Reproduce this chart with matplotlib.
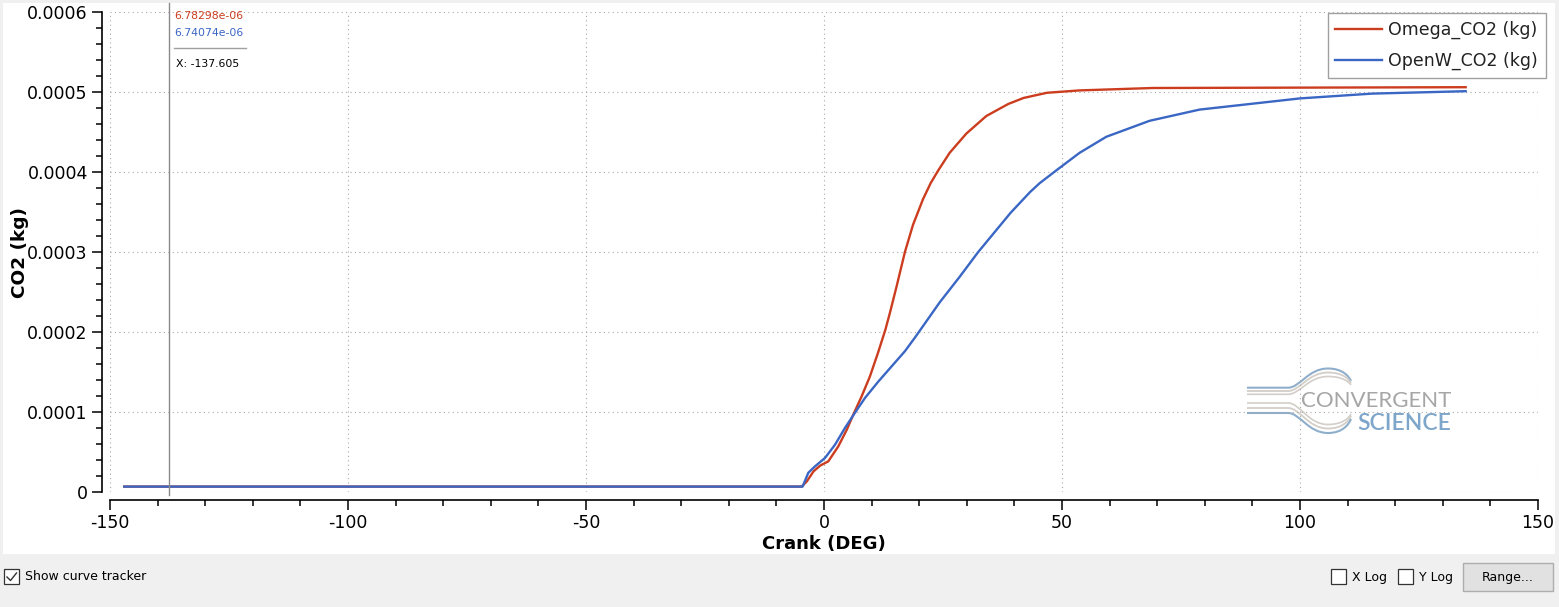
import matplotlib
matplotlib.use("Agg")
import matplotlib.pyplot as plt
from matplotlib.patches import Rectangle, PathPatch
from matplotlib.path import Path
from matplotlib.lines import Line2D
from matplotlib.ticker import MultipleLocator

# ---------------- data ----------------
omega_x = [-147, -4.7, -3.6, -2.2, -0.8, 0.9, 3.0, 4.8, 6.1, 7.9, 9.65, 11.4, 12.9,
           13.85, 15.25, 17.0, 18.7, 20.8, 22.4, 24.0, 26.4, 29.9, 34.1, 38.7, 41.9,
           46.8, 53.7, 69.0, 134.8]
omega_y = [6.78e-6, 6.78e-6, 1.33e-5, 2.58e-5, 3.3e-5, 3.83e-5, 5.7e-5, 7.8e-5, 9.6e-5,
           1.195e-4, 1.445e-4, 1.75e-4, 2.03e-4, 2.24e-4, 2.57e-4, 3.0e-4, 3.34e-4,
           3.66e-4, 3.86e-4, 4.02e-4, 4.24e-4, 4.48e-4, 4.70e-4, 4.85e-4, 4.925e-4,
           4.99e-4, 5.02e-4, 5.05e-4, 5.06e-4]

openw_x = [-147, -4.5, -3.3, -1.9, 0.2, 2.3, 4.4, 6.5, 8.6, 11.4, 14.2, 17.0, 19.1,
           24.3, 28.5, 32.4, 39.2, 43.3, 45.3, 48.8, 53.7, 59.3, 68.4, 78.9,
           100.0, 115.2, 134.8]
openw_y = [6.74e-6, 6.74e-6, 2.4e-5, 3.2e-5, 4.25e-5, 5.9e-5, 8.0e-5, 9.9e-5, 1.175e-4,
           1.38e-4, 1.57e-4, 1.76e-4, 1.93e-4, 2.37e-4, 2.69e-4, 3.0e-4, 3.49e-4,
           3.75e-4, 3.86e-4, 4.02e-4, 4.24e-4, 4.44e-4, 4.64e-4, 4.78e-4,
           4.92e-4, 4.98e-4, 5.01e-4]

series_names = ["Omega_CO2 (kg)", "OpenW_CO2 (kg)"]
series_colors = ["#cc3d1f", "#3a66c4"]
tracker_x = -137.605
tracker_vals = ["6.78298e-06", "6.74074e-06"]

W, H = 1559, 607
fig = plt.figure(figsize=(W / 100, H / 100), dpi=100)
fig.patch.set_facecolor("#f0f0f0")


def fx(x):
    return x / W


def fy(y):
    return 1 - y / H


# white plot widget background
fig.patches.append(Rectangle((fx(3), fy(554)), fx(1555) - fx(3), fy(3) - fy(554),
                             transform=fig.transFigure, facecolor="white",
                             edgecolor="none", zorder=-5))

left, right, top, bottom = 110, 1538, 12, 492
ax = fig.add_axes([fx(left), fy(bottom), fx(right) - fx(left), fy(top) - fy(bottom)])
ax.set_facecolor("none")
ax.set_zorder(2)

ax.plot(omega_x, omega_y, color=series_colors[0], lw=1.7, label=series_names[0], zorder=3,
        solid_joinstyle="round")
ax.plot(openw_x, openw_y, color=series_colors[1], lw=1.7, label=series_names[1], zorder=4,
        solid_joinstyle="round")

ax.set_xlim(-150, 150)
ax.set_ylim(0, 0.0006)
ax.xaxis.set_major_locator(MultipleLocator(50))
ax.xaxis.set_minor_locator(MultipleLocator(10))
ax.yaxis.set_major_locator(MultipleLocator(0.0001))
ax.yaxis.set_minor_locator(MultipleLocator(0.00002))
ax.yaxis.set_major_formatter(matplotlib.ticker.FuncFormatter(
    lambda v, p: "0" if abs(v) < 1e-12 else f"{v:.4f}"))
ax.xaxis.set_major_formatter(matplotlib.ticker.FuncFormatter(lambda v, p: f"{v:g}"))

for s in ["top", "right"]:
    ax.spines[s].set_visible(False)
ax.spines["left"].set_position(("outward", 6))
ax.spines["bottom"].set_position(("outward", 6))
for s in ["left", "bottom"]:
    ax.spines[s].set_color("black")
    ax.spines[s].set_linewidth(1.2)

ax.tick_params(which="major", length=7, width=1.1, direction="out", labelsize=12.5,
               colors="black", pad=3)
ax.tick_params(which="minor", length=4, width=1.1, direction="out")
ax.grid(True, which="major", linestyle=(0, (1, 3)), color="#a8a8a8", lw=0.8)
ax.set_axisbelow(True)

ax.set_xlabel("Crank (DEG)", fontsize=13, fontweight="bold", labelpad=2)
ax.set_ylabel("CO2 (kg)", fontsize=13.3, fontweight="bold", labelpad=-1)

# legend
leg = ax.legend(loc="upper right", bbox_to_anchor=(fx(1546), fy(13)),
                bbox_transform=fig.transFigure, fontsize=12.5, frameon=True,
                fancybox=False, framealpha=1, edgecolor="#a0a0a0",
                handlelength=2.7, handletextpad=0.35, labelspacing=0.72,
                borderpad=0.45, borderaxespad=0)
leg.get_frame().set_linewidth(1.0)
for t in leg.get_texts():
    t.set_color("#222222")

# curve tracker
fig.lines.append(Line2D([fx(169.3), fx(169.3)], [fy(3), fy(495)], transform=fig.transFigure,
                        color="#8a8a8a", lw=1.0, zorder=6))
tx = fx(174)
fig.text(tx, fy(16), tracker_vals[0], color=series_colors[0], fontsize=7.8, va="center", ha="left")
fig.text(tx, fy(33), tracker_vals[1], color=series_colors[1], fontsize=7.8, va="center", ha="left")
fig.lines.append(Line2D([fx(174), fx(246)], [fy(48), fy(48)], transform=fig.transFigure,
                        color="#a0a0a0", lw=1.0))
fig.text(fx(176), fy(64), f"X: {tracker_x}", color="black", fontsize=7.8, va="center", ha="left")

# Convergent Science watermark
logo_blue = "#8eaecb"
logo_gray = "#d3cec8"


def logo_curve(y0, ytop, yend, color, lw):
    verts = [(fx(1247), fy(y0)), (fx(1288), fy(y0)),
             (fx(1300), fy(y0)), (fx(1308), fy(ytop)), (fx(1328), fy(ytop)),
             (fx(1343), fy(ytop)), (fx(1349), fy(yend - (yend - ytop) * 0.35)), (fx(1351), fy(yend))]
    codes = [Path.MOVETO, Path.LINETO, Path.CURVE4, Path.CURVE4, Path.CURVE4,
             Path.CURVE4, Path.CURVE4, Path.CURVE4]
    fig.patches.append(PathPatch(Path(verts, codes), transform=fig.transFigure,
                                 facecolor="none", edgecolor=color, lw=lw, zorder=1))


logo_curve(387.7, 368.5, 381, logo_blue, 1.5)
logo_curve(391.0, 372.5, 383, logo_gray, 1.3)
logo_curve(394.3, 376.5, 385, logo_gray, 1.2)
logo_curve(403.0, 424.5, 414, logo_gray, 1.2)
logo_curve(408.0, 428.5, 416, logo_gray, 1.3)
logo_curve(413.0, 433.0, 419, logo_blue, 1.5)
fig.text(fx(1451), fy(401), "CONVERGENT", color="#a6a6a6", fontsize=16,
         family="Lato", ha="right", va="center", zorder=1)
fig.text(fx(1451), fy(423), "SCIENCE", color="#7ea6ca", fontsize=16.5,
         family="Lato", fontweight="semibold", ha="right", va="center", zorder=1)

# bottom controls
def checkbox(x, y, checked=False):
    fig.patches.append(Rectangle((fx(x), fy(y + 15)), fx(15), 15 / H, transform=fig.transFigure,
                                 facecolor="white", edgecolor="#333333", lw=0.9))
    if checked:
        fig.lines.append(Line2D([fx(x + 3), fx(x + 6.5), fx(x + 12.5)],
                                [fy(y + 8), fy(y + 11.5), fy(y + 4)],
                                transform=fig.transFigure, color="#333333", lw=1.0))


checkbox(4, 569, True)
fig.text(fx(25), fy(577), "Show curve tracker", fontsize=9, color="black", va="center", ha="left")
checkbox(1331, 569)
fig.text(fx(1352), fy(577), "X Log", fontsize=9, color="black", va="center", ha="left")
checkbox(1398, 569)
fig.text(fx(1419), fy(577), "Y Log", fontsize=9, color="black", va="center", ha="left")
fig.patches.append(Rectangle((fx(1463), fy(591)), fx(1553) - fx(1463), 28 / H,
                             transform=fig.transFigure, facecolor="#e1e1e1",
                             edgecolor="#adadad", lw=1.0))
fig.text(fx(1508), fy(577), "Range...", fontsize=9, color="black", va="center", ha="center")

fig.savefig("out.png", dpi=100, facecolor=fig.get_facecolor())
